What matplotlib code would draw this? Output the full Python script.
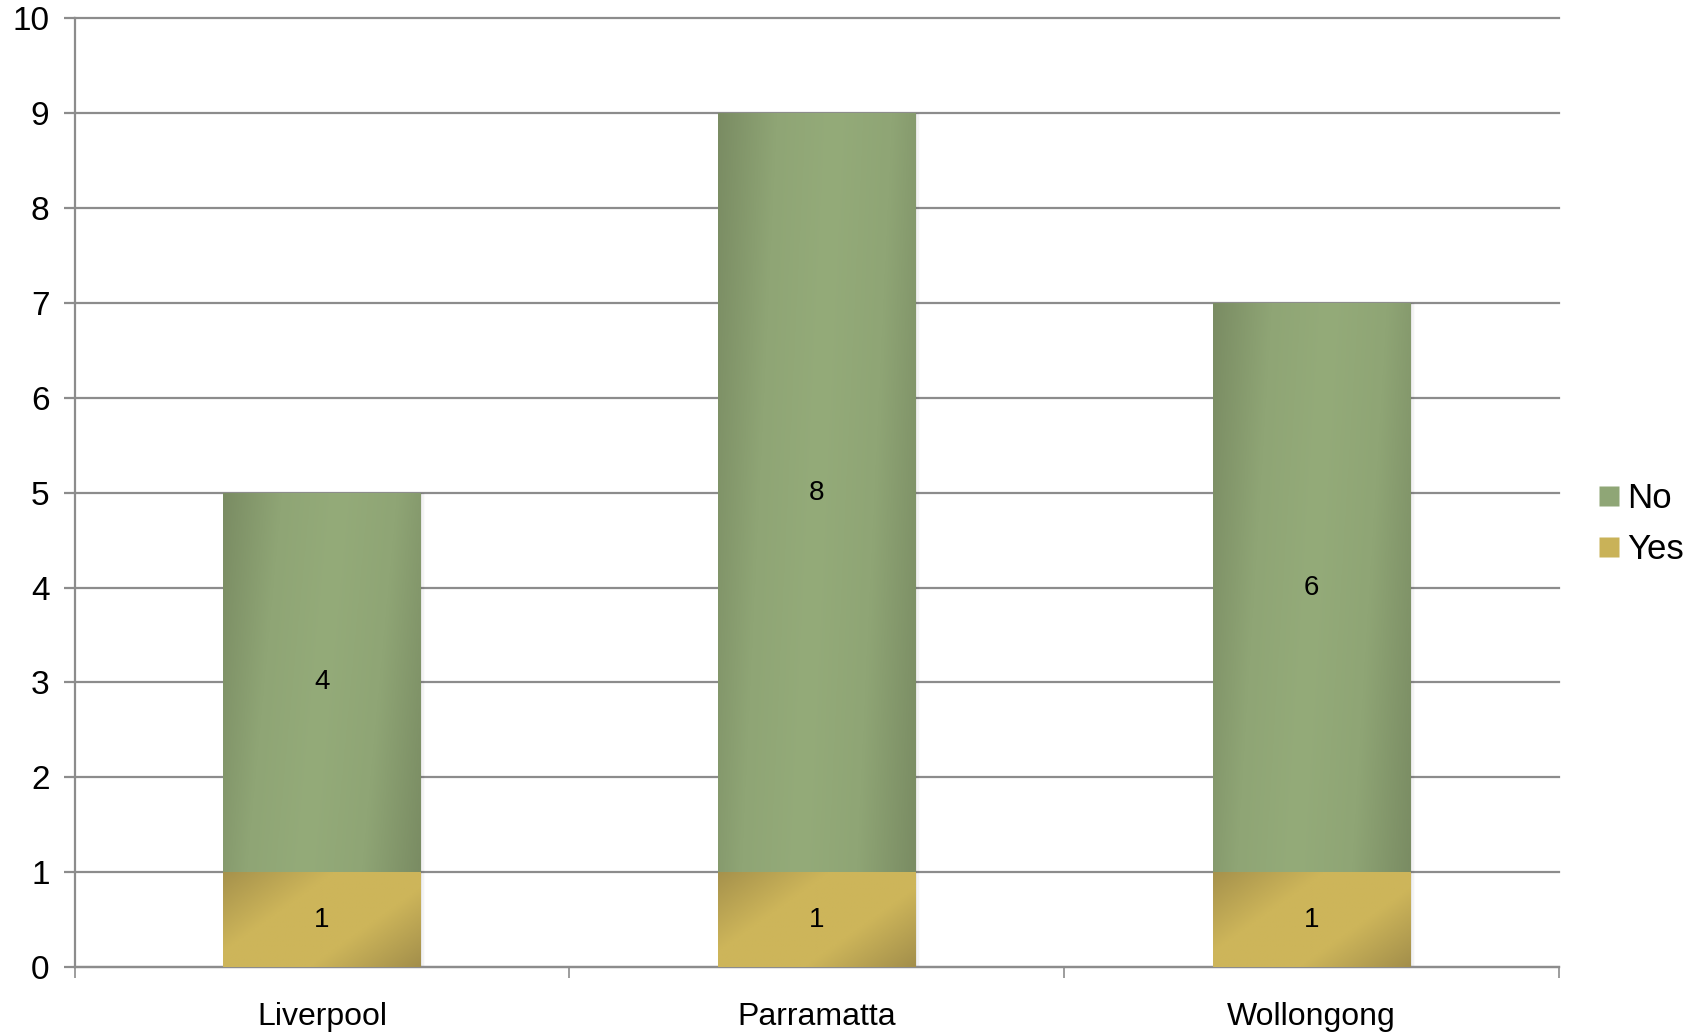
import numpy as np
import matplotlib
matplotlib.use("Agg")
import matplotlib.pyplot as plt
from matplotlib.colors import LinearSegmentedColormap
from matplotlib.patches import Rectangle
from matplotlib.lines import Line2D

plt.rcParams["font.family"] = ["Liberation Sans", "DejaVu Sans"]

sites = ["Liverpool", "Parramatta", "Wollongong"]
yes_counts = [1, 1, 1]
no_counts = [4, 8, 6]

GREEN_CMAP = LinearSegmentedColormap.from_list(
    "green", ["#7a8c63", "#8fa575", "#94ab79", "#8fa575", "#7a8c63"])
GOLD_CMAP = LinearSegmentedColormap.from_list(
    "gold", ["#a6924c", "#cdb55a", "#cdb55a", "#a38f4b"])


def gradient_bar(ax, x, bottom, height, width, cmap, diagonal=False):
    """Fill a bar with a shaded gradient, clipped to the bar rectangle."""
    left = x - width / 2
    nx, ny = 200, 60
    u = np.linspace(0, 1, nx)[None, :]
    v = np.linspace(0, 1, ny)[:, None]
    if diagonal:
        t = 0.6 * u + 0.4 * (1 - v)
    else:
        t = 0.85 * u + 0.15 * (1 - v)
    t = np.clip(t, 0, 1)
    # soft shadow on the right edge
    for k, a in enumerate([0.05, 0.03, 0.015]):
        ax.add_patch(Rectangle((left + width, bottom), 0.003 * (k + 1), height,
                               facecolor="#000000", alpha=a, edgecolor="none", zorder=2))
    rect = Rectangle((left, bottom), width, height, facecolor="none",
                     edgecolor="none", zorder=3)
    ax.add_patch(rect)
    im = ax.imshow(t, cmap=cmap, vmin=0, vmax=1, aspect="auto",
                   extent=(left, left + width, bottom, bottom + height),
                   origin="lower", interpolation="bilinear", zorder=3)
    im.set_clip_path(rect)


fig = plt.figure(figsize=(16.94, 10.32), dpi=100)
ax = fig.add_axes([74.5 / 1694, 1 - 967 / 1032, (1559 - 74.5) / 1694, (967 - 18.5) / 1032])

x = np.arange(len(sites))
bar_w = 0.40
for xi, yv, nv in zip(x, yes_counts, no_counts):
    gradient_bar(ax, xi, 0, yv, bar_w, GOLD_CMAP, diagonal=True)
    gradient_bar(ax, xi, yv, nv, bar_w, GREEN_CMAP)
    ax.text(xi, yv / 2, str(yv), ha="center", va="center", fontsize=20, zorder=5)
    ax.text(xi, yv + nv / 2, str(nv), ha="center", va="center", fontsize=20, zorder=5)

ax.set_xlim(-0.5, len(sites) - 0.5)
ax.set_ylim(0, 10)
ax.set_yticks(range(0, 11))
ax.yaxis.grid(True, color="#8c8c8c", linewidth=1.6)
for gl in ax.get_ygridlines():
    gl.set_clip_on(False)
ax.set_axisbelow(True)

ax.set_xticks(np.arange(-0.5, len(sites)), minor=False)
ax.set_xticklabels([])
ax.set_xticks(x, minor=True)
ax.set_xticklabels(sites, minor=True, fontsize=23)
ax.tick_params(axis="x", which="major", direction="out", length=8, width=1.2, color="#8c8c8c")
ax.tick_params(axis="x", which="minor", length=0, pad=25)
ax.tick_params(axis="y", direction="out", length=8, width=1.6, color="#8c8c8c",
               labelsize=24, pad=10)

for side in ["top", "right"]:
    ax.spines[side].set_visible(False)
ax.spines["left"].set_color("#8c8c8c")
ax.spines["left"].set_linewidth(1.6)
ax.spines["bottom"].set_color("#8c8c8c")
ax.spines["bottom"].set_linewidth(1.6)

handles = [Line2D([], [], marker="s", linestyle="none", markersize=14,
                  markerfacecolor="#8fa676", markeredgecolor="none"),
           Line2D([], [], marker="s", linestyle="none", markersize=14,
                  markerfacecolor="#c9b258", markeredgecolor="none")]
fig.legend(handles, ["No", "Yes"], loc="center left",
           bbox_to_anchor=(1592 / 1694, 1 - 524 / 1032), frameon=False,
           fontsize=25, handletextpad=0.0, labelspacing=0.5, handlelength=1.0,
           borderpad=0, borderaxespad=0)

fig.savefig("out.png", dpi=100)
